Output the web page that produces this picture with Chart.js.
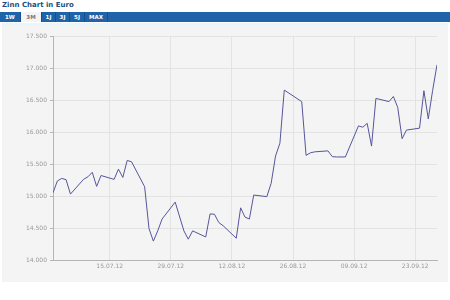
<!DOCTYPE html>
<html>
<head>
<meta charset="utf-8">
<script src="https://cdn.jsdelivr.net/npm/chart.js@4.4.0/dist/chart.umd.min.js"></script>
<style>
  html, body { margin: 0; padding: 0; background: #fff; }
  body { width: 450px; height: 300px; position: relative; overflow: hidden; font-family: "DejaVu Sans", Verdana, sans-serif; }
  .title { position: absolute; left: 2px; top: 1px; font-size: 7px; font-weight: bold; color: #1d4f7e; }
  .tabs { position: absolute; left: 0; top: 12px; width: 450px; height: 10px; background: #2063a9; }
  .tab { position: absolute; top: 0; height: 10px; line-height: 10px; font-size: 5.5px; font-weight: bold; color: #fff; text-align: center; border-right: 1px solid #174f8c; }
  .tab.active { background: #f4f4f4; color: #777; }
  .strip { position: absolute; left: 2px; top: 23px; width: 446px; height: 3px; background: #e6f6fb; }
  .panel { position: absolute; left: 2px; top: 26px; width: 446px; height: 256px; background: #f4f4f4; }
  #wrap { position: absolute; left: 0; top: 0; width: 450px; height: 300px; }
</style>
</head>
<body>
<div class="title">Zinn Chart in Euro</div>
<div class="tabs">
  <div class="tab" style="left:0;width:20px">1W</div>
  <div class="tab active" style="left:21px;width:20px">3M</div>
  <div class="tab" style="left:42px;width:13px">1J</div>
  <div class="tab" style="left:56px;width:13px">3J</div>
  <div class="tab" style="left:70px;width:14px">5J</div>
  <div class="tab" style="left:85px;width:22px">MAX</div>
</div>
<div class="strip"></div>
<div class="panel"></div>
<div id="wrap"><canvas id="zinnChart" width="450" height="300"></canvas></div>
<script>
// Zinn (tin) price in Euro, July - September 2012
const dates = [
  '02.07.12', '03.07.12', '04.07.12', '05.07.12', '06.07.12',
  '09.07.12', '10.07.12', '11.07.12', '12.07.12', '13.07.12',
  '16.07.12', '17.07.12', '18.07.12', '19.07.12', '20.07.12',
  '23.07.12', '24.07.12', '25.07.12', '26.07.12', '27.07.12',
  '30.07.12', '01.08.12', '02.08.12', '03.08.12',
  '06.08.12', '07.08.12', '08.08.12', '09.08.12', '10.08.12',
  '13.08.12', '14.08.12', '15.08.12', '16.08.12', '17.08.12',
  '20.08.12', '21.08.12', '22.08.12', '23.08.12', '24.08.12',
  '28.08.12', '29.08.12', '30.08.12', '31.08.12',
  '03.09.12', '04.09.12', '05.09.12', '06.09.12', '07.09.12',
  '10.09.12', '11.09.12', '12.09.12', '13.09.12', '14.09.12',
  '17.09.12', '18.09.12', '19.09.12', '20.09.12', '21.09.12',
  '24.09.12', '25.09.12', '26.09.12', '27.09.12', '28.09.12'
];
const prices = [
  15050, 15235, 15275, 15255, 15030,
  15260, 15300, 15370, 15150, 15320,
  15260, 15420, 15290, 15555, 15535,
  15145, 14490, 14295, 14455, 14640,
  14905, 14455, 14325, 14455,
  14360, 14720, 14715, 14585, 14535,
  14340, 14815, 14670, 14640, 15015,
  14990, 15200, 15625, 15825, 16655,
  16475, 15635, 15675, 15690,
  15705, 15615, 15610, 15610, 15610,
  16095, 16075, 16135, 15780, 16525,
  16475, 16555, 16385, 15895, 16030,
  16060, 16645, 16205, 16650, 17050
];
const tickDates = ['15.07.12', '29.07.12', '12.08.12', '26.08.12', '09.09.12', '23.09.12'];
const yMin = 14000;
const yMax = 17500;
const yStep = 500;

const parseDate = (s) => {
  const [d, m, y] = s.split('.').map(Number);
  return Date.UTC(2000 + y, m - 1, d);
};
const DAY = 86400000;
const startTime = parseDate(dates[0]);
const dayOffset = (s) => (parseDate(s) - startTime) / DAY;

const formatDay = (v) => {
  const dt = new Date(startTime + v * DAY);
  const pad = (n) => String(n).padStart(2, '0');
  return pad(dt.getUTCDate()) + '.' + pad(dt.getUTCMonth() + 1) + '.' + String(dt.getUTCFullYear()).slice(2);
};
const formatPrice = (v) => String(v).replace(/\B(?=(\d{3})+(?!\d))/g, '.');

const points = dates.map((d, i) => ({ x: dayOffset(d), y: prices[i] }));
const tickFont = { family: '"DejaVu Sans", Verdana, sans-serif', size: 6 };

new Chart(document.getElementById('zinnChart'), {
  type: 'line',
  data: {
    datasets: [{
      data: points,
      borderColor: '#55559b',
      borderWidth: 1,
      pointRadius: 0,
      tension: 0,
      fill: false
    }]
  },
  options: {
    responsive: false,
    animation: false,
    layout: { padding: { left: 0, top: 36, right: 13, bottom: 0 } },
    plugins: { legend: { display: false }, tooltip: { enabled: false } },
    scales: {
      x: {
        type: 'linear',
        min: 0,
        max: dayOffset(dates[dates.length - 1]),
        afterBuildTicks: (scale) => {
          scale.ticks = tickDates.map(d => ({ value: dayOffset(d) }));
        },
        afterFit: (scale) => { scale.height = 40; },
        ticks: {
          autoSkip: false,
          maxRotation: 0,
          color: '#999',
          font: tickFont,
          padding: 3,
          callback: (v) => formatDay(v)
        },
        grid: { color: '#e3e3e3', lineWidth: 1, drawTicks: false },
        border: { color: '#b5b5b5', width: 1 }
      },
      y: {
        min: yMin,
        max: yMax,
        afterFit: (scale) => { scale.width = 53; },
        ticks: {
          stepSize: yStep,
          color: '#999',
          font: tickFont,
          padding: 3,
          callback: (v) => formatPrice(v)
        },
        grid: { color: '#e3e3e3', lineWidth: 1, tickLength: 3, tickColor: '#b5b5b5' },
        border: { color: '#b5b5b5', width: 1 }
      }
    }
  }
});
</script>
</body>
</html>
